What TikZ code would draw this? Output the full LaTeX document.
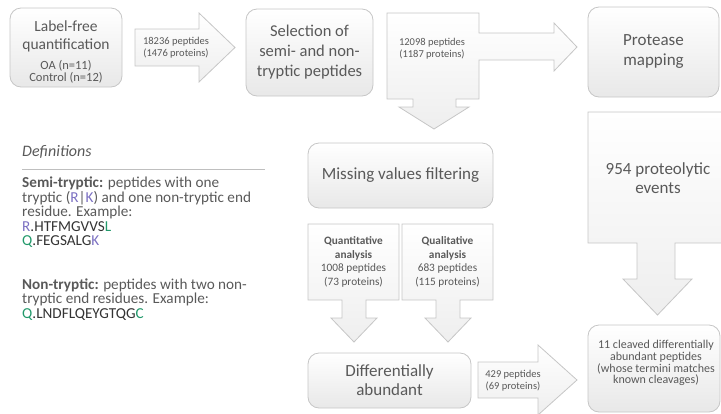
\documentclass[tikz,border=0pt]{standalone}
\usepackage{fontspec}
\setmainfont{Carlito}
\newcommand\myfs[2]{\fontsize{#1}{#2}\selectfont}
\definecolor{txt}{HTML}{595959}
\definecolor{bord}{HTML}{C6C6C6}
\definecolor{boxbot}{HTML}{E8E8E8}
\definecolor{arrbot}{HTML}{EEEEEE}
\definecolor{pur}{HTML}{7B70C2}
\definecolor{grn}{HTML}{22996B}
\definecolor{seq}{HTML}{333333}
\definecolor{rulec}{HTML}{BFBFBF}
\begin{document}
\begin{tikzpicture}[x=1pt,y=-1pt,
  box/.style={draw=bord, line width=0.8pt, rounded corners=11pt, top color=white, bottom color=boxbot, text=txt, align=center, inner sep=0pt},
  arr/.style={draw=bord, line width=0.8pt, top color=white, bottom color=arrbot, line join=miter},
  lbl/.style={text=txt, align=center, inner sep=0pt},
  defl/.style={text=txt, anchor=base west, inner sep=0pt, font=\myfs{15.2}{15}}]
\useasboundingbox (0,0) rectangle (721,413);
\clip (0,0) rectangle (721,413);

% block arrows
\draw[arr] (135,29) -- (199,29) -- (199,13) -- (235,47.5) -- (199,82) -- (199,66) -- (135,66) -- cycle;
\node[lbl, font=\myfs{10.5}{12}] (a1) at (176,48) {18236 peptides\\(1476 proteins)};

\draw[arr] (387,13) -- (479,13) -- (479,33) -- (554,33) -- (554,23) -- (577,47) -- (554,71) -- (554,60) -- (479,60) -- (479,99) -- (456,99) -- (456,107) -- (469,107) -- (434,129) -- (399,107) -- (413,107) -- (413,99) -- (387,99) -- cycle;
\node[lbl, font=\myfs{10.5}{12}] (a2) at (432,48.5) {12098 peptides\\(1187 proteins)};

\draw[arr] (588,112) -- (726,112) -- (726,243) -- (675,243) -- (675,279) -- (692,279) -- (657.5,315) -- (623,279) -- (637,279) -- (637,243) -- (588,243) -- cycle;
\node[lbl, font=\myfs{17}{19}] (ev) at (658,178.5) {954 proteolytic\\events};

\draw[arr] (308,224) -- (399,224) -- (399,300) -- (366,300) -- (366,318) -- (377,318) -- (354,342) -- (331,318) -- (342,318) -- (342,300) -- (308,300) -- cycle;
\node[lbl, font=\myfs{11.3}{13.5}] (qn) at (353.5,262) {\textbf{Quantitative}\\\textbf{analysis}\\1008 peptides\\(73 proteins)};

\draw[arr] (402,224) -- (493,224) -- (493,300) -- (460,300) -- (460,318) -- (471,318) -- (448,342) -- (425,318) -- (436,318) -- (436,300) -- (402,300) -- cycle;
\node[lbl, font=\myfs{11.3}{13.5}] (ql) at (447.5,262) {\textbf{Qualitative}\\\textbf{analysis}\\683 peptides\\(115 proteins)};

\draw[arr] (478,362) -- (538,362) -- (538,345) -- (577,380) -- (538,415) -- (538,398) -- (478,398) -- cycle;
\node[lbl, font=\myfs{10.5}{12}] (a3) at (513,381) {429 peptides\\(69 proteins)};

% boxes
\node[box, minimum width=112pt, minimum height=79pt] (b1) at (66,47.5) {};
\node[lbl, font=\myfs{15.5}{18}] (b1a) at (66,36) {Label-free\\quantification};
\node[lbl, font=\myfs{12.5}{12}] (b1b) at (66,72) {OA (n=11)\\Control (n=12)};
\node[box, minimum width=127pt, minimum height=87pt, font=\myfs{16.5}{20}] (b2) at (309.5,52.5)
  {Selection of\\semi- and non-\\tryptic peptides};
\node[box, minimum width=131pt, minimum height=90pt, font=\myfs{17}{20}] (pm) at (653.5,52)
  {Protease\\mapping};
\node[box, minimum width=185pt, minimum height=65pt, font=\myfs{17}{20}] (mv) at (400.5,175.5)
  {Missing values filtering};
\node[box, minimum width=163pt, minimum height=55pt, font=\myfs{17}{19}] (da) at (389.5,380.5)
  {Differentially\\abundant};
\node[box, minimum width=132pt, minimum height=87pt] (fb) at (654,368.5) {};
\node[lbl, font=\myfs{12}{11.8}] (ft) at (656,363)
  {11 cleaved differentially\\abundant peptides\\(whose termini matches\\known cleavages)};

% definitions
\node[text=txt, anchor=base west, inner sep=0pt, font=\myfs{16}{16}\itshape] (dt) at (22,156) {Definitions};
\coordinate (r1) at (22,169);
\coordinate (r2) at (265,169);
\draw[rulec, line width=0.8pt] (r1) -- (r2);
\node[defl] (d1) at (22,187.5) {\textbf{Semi-tryptic:} peptides with one};
\node[defl] (d2) at (22,202) {tryptic (\textcolor{pur}{R}|\textcolor{pur}{K}) and one non-tryptic end};
\node[defl] (d3) at (22,216.5) {residue. Example:};
\node[defl] (d4) at (22,231) {\textcolor{pur}{R}\textcolor{seq}{.HTFMGVVS}\textcolor{grn}{L}};
\node[defl] (d5) at (22,245.5) {\textcolor{grn}{Q}\textcolor{seq}{.FEGSALG}\textcolor{pur}{K}};
\node[defl] (d6) at (22,289) {\textbf{Non-tryptic:} peptides with two non-};
\node[defl] (d7) at (22,303.5) {tryptic end residues. Example:};
\node[defl] (d8) at (22,318) {\textcolor{grn}{Q}\textcolor{seq}{.LNDFLQEYGTQG}\textcolor{grn}{C}};
\end{tikzpicture}
\end{document}
